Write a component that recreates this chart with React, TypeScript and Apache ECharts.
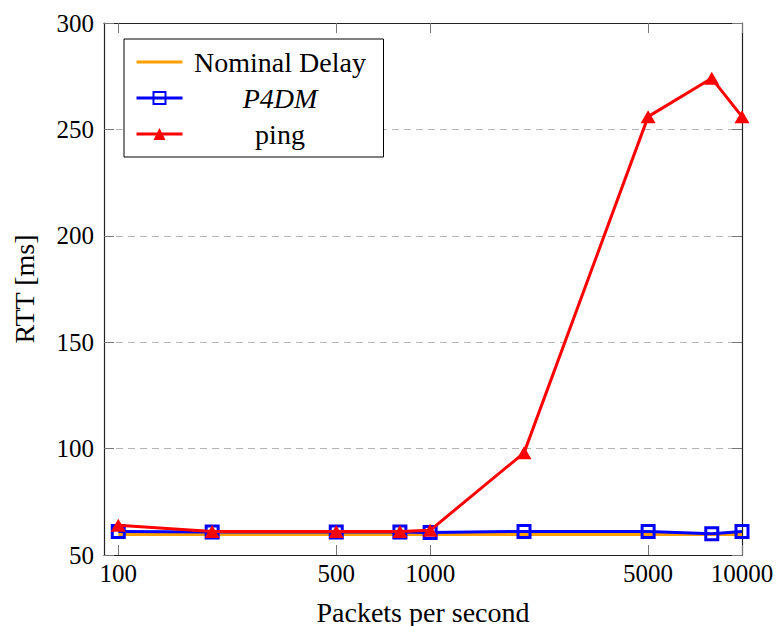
import React, { useEffect, useRef } from "react";
import * as echarts from "echarts";

const X_VALUES = [100, 200, 500, 800, 1000, 2000, 5000, 8000, 10000];
const NOMINAL = [59.6, 59.6, 59.6, 59.6, 59.6, 59.6, 59.6, 59.6, 59.6];
const P4DM = [61, 60.8, 60.8, 60.8, 60.6, 61.1, 61, 60, 61];
const PING = [64, 61, 61, 61, 61.6, 98, 256, 274, 256];
const X_TICKS = [100, 500, 1000, 5000, 10000];
const X_MIN = 90;
const X_MAX = 10000;
const Y_MIN = 50;
const Y_MAX = 300;
const Y_STEP = 50;

const FONT = "'Liberation Serif', 'DejaVu Serif', serif";

function zip(ys: number[]) {
  return X_VALUES.map((x, i) => [x, ys[i]]);
}

export default function App() {
  const ref = useRef<HTMLDivElement>(null);
  useEffect(() => {
    if (!ref.current) return;
    const chart = echarts.init(ref.current, undefined, { renderer: "svg" });
    const axisLine = { show: true, lineStyle: { color: "#222", width: 1.2 } };
    const tickStyle = { color: "#777", width: 1 };
    const option: any = {
      animation: false,
      backgroundColor: "#fff",
      grid: { left: 104, right: 36, top: 23, bottom: 71, containLabel: false, outerBoundsMode: "none" },
      legend: {
        orient: "vertical",
        left: 124,
        top: 39,
        backgroundColor: "#fff",
        borderColor: "#000",
        borderWidth: 1,
        borderRadius: 0,
        padding: [9, 11, 9, 11],
        itemWidth: 46,
        itemHeight: 15,
        itemGap: 8,
        lineStyle: { width: 3 },
        data: [
          { name: "Nominal Delay", itemStyle: { opacity: 0 } },
          { name: "P4DM" },
          { name: "ping" },
        ],
        formatter: (name: string) => (name === "P4DM" ? `{i|${name}}` : `{t|${name}}`),
        textStyle: {
          fontFamily: FONT,
          fontSize: 28,
          color: "#000",
          rich: {
            t: { width: 185, align: "center", fontFamily: FONT, fontSize: 28, lineHeight: 25, color: "#000" },
            i: { width: 185, align: "center", fontFamily: FONT, fontSize: 28, lineHeight: 25, fontStyle: "italic", color: "#000" },
          },
        },
      },
      xAxis: [
        {
          type: "log",
          logBase: 10,
          min: X_MIN,
          max: X_MAX,
          position: "bottom",
          name: "Packets per second",
          nameLocation: "middle",
          nameGap: 43,
          nameTextStyle: { fontFamily: FONT, fontSize: 28, color: "#000" },
          axisLine,
          axisTick: { show: true, inside: true, length: 10, customValues: X_TICKS, lineStyle: tickStyle },
          axisLabel: {
            customValues: X_TICKS,
            formatter: (v: number) => String(Math.round(v)),
            fontFamily: FONT,
            fontSize: 25,
            color: "#000",
            margin: 6,
          },
          minorTick: { show: false },
          splitLine: { show: false },
        },
        {
          type: "log",
          logBase: 10,
          min: X_MIN,
          max: X_MAX,
          position: "top",
          axisLine,
          axisTick: { show: true, inside: true, length: 10, customValues: X_TICKS, lineStyle: tickStyle },
          axisLabel: { show: false },
          minorTick: { show: false },
          splitLine: { show: false },
        },
      ],
      yAxis: [
        {
          type: "value",
          min: Y_MIN,
          max: Y_MAX,
          interval: Y_STEP,
          position: "left",
          name: "RTT [ms]",
          nameLocation: "middle",
          nameGap: 66,
          nameRotate: 90,
          nameTextStyle: { fontFamily: FONT, fontSize: 28, color: "#000" },
          axisLine,
          axisTick: { show: true, inside: true, length: 10, lineStyle: tickStyle },
          axisLabel: { fontFamily: FONT, fontSize: 25, color: "#000", margin: 10 },
          splitLine: { show: true, lineStyle: { color: "#b5b5b5", width: 1, type: [7, 5] } },
        },
        {
          type: "value",
          min: Y_MIN,
          max: Y_MAX,
          interval: Y_STEP,
          position: "right",
          axisLine,
          axisTick: { show: true, inside: true, length: 10, lineStyle: tickStyle },
          axisLabel: { show: false },
          splitLine: { show: false },
        },
      ],
      series: [
        {
          name: "Nominal Delay",
          type: "line",
          data: zip(NOMINAL),
          symbol: "none",
          color: "#FFA000",
          lineStyle: { color: "#FFA000", width: 3 },
          z: 2,
        },
        {
          name: "P4DM",
          type: "line",
          data: zip(P4DM),
          symbol: "rect",
          symbolSize: 12,
          color: "#0000FF",
          lineStyle: { color: "#0000FF", width: 3 },
          itemStyle: { color: "rgba(255,255,255,0)", borderColor: "#0000FF", borderWidth: 3 },
          z: 3,
        },
        {
          name: "ping",
          type: "line",
          data: zip(PING),
          symbol: "triangle",
          symbolSize: [15, 13],
          color: "#FF0000",
          lineStyle: { color: "#FF0000", width: 3 },
          itemStyle: { color: "#FF0000" },
          z: 4,
        },
      ],
    };
    chart.setOption(option);
    return () => chart.dispose();
  }, []);
  return (
    <div
      ref={ref}
      style={{ position: "absolute", left: 0, top: 0, width: 778, height: 626, background: "#fff" }}
    />
  );
}
